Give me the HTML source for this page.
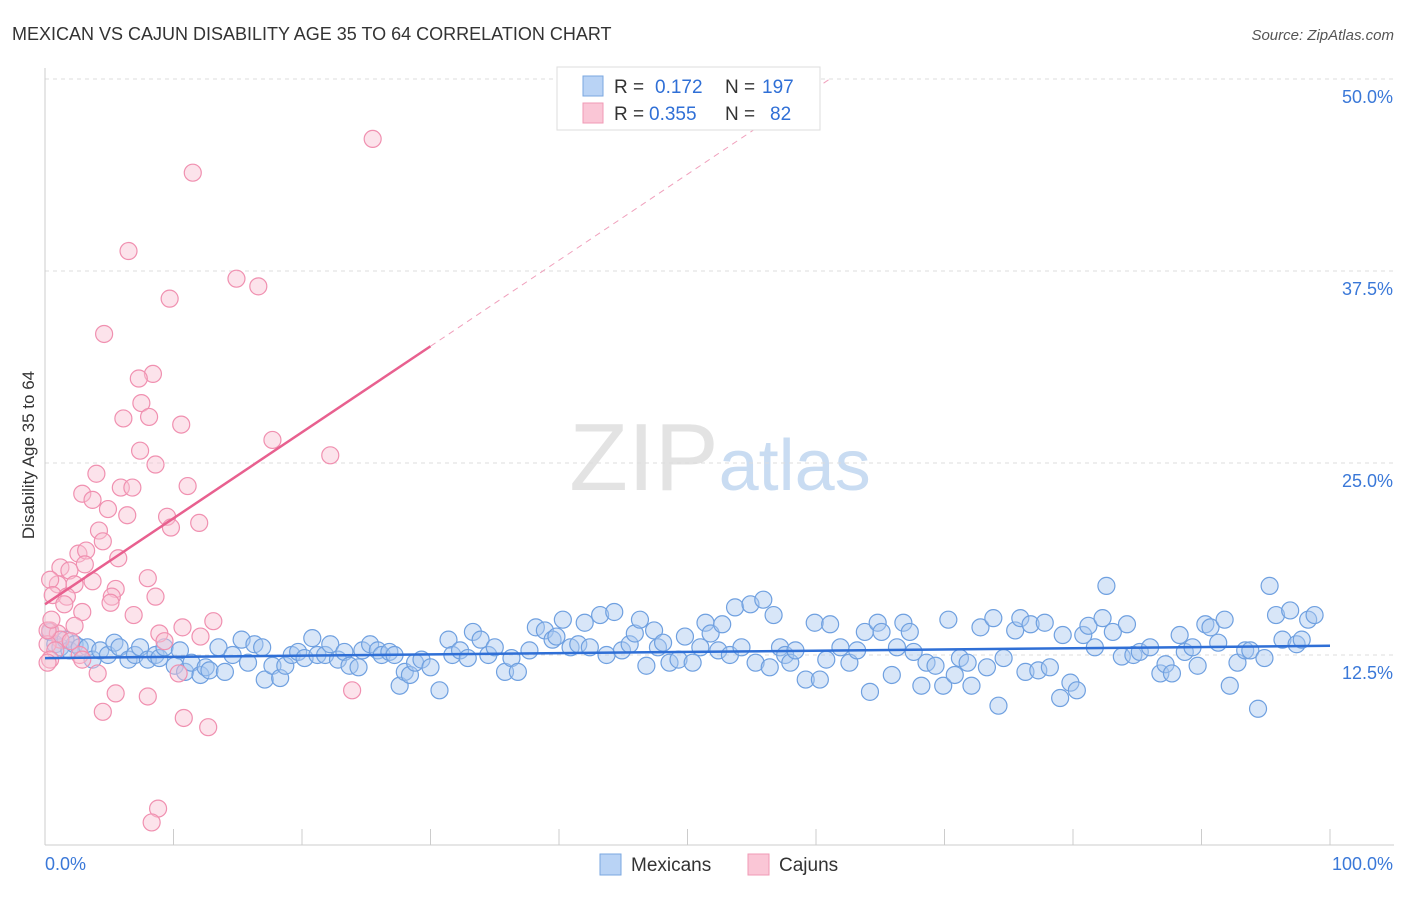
<!DOCTYPE html>
<html><head><meta charset="utf-8"><style>
body{margin:0;background:#fff;font-family:"Liberation Sans",sans-serif;}
svg text{font-family:"Liberation Sans",sans-serif;}
</style></head><body>
<svg id="chart" width="1406" height="892" xmlns="http://www.w3.org/2000/svg">
<text x="12" y="40" font-size="18" fill="#333">MEXICAN VS CAJUN DISABILITY AGE 35 TO 64 CORRELATION CHART</text>
<text x="1394" y="40" font-size="15" fill="#555" font-style="italic" text-anchor="end">Source: ZipAtlas.com</text>
<text x="720" y="490" font-size="96" fill="#e3e3e3" text-anchor="middle" font-family="Liberation Serif">ZIP<tspan fill="#c9dcf2" font-family="Liberation Sans" font-size="72">atlas</tspan></text>
<g id="grid"></g><g id="axes"></g><g id="pts"></g><g id="trend"></g>
<text transform="translate(34,455) rotate(-90)" font-size="17" fill="#333" text-anchor="middle">Disability Age 35 to 64</text>
<g>
<rect x="557" y="67" width="263" height="63" fill="#fff" stroke="#ddd"/>
<rect x="583" y="76" width="20" height="20" fill="#b9d3f5" stroke="#7aa7e0"/>
<rect x="583" y="103" width="20" height="20" fill="#fac6d6" stroke="#f09ab5"/>
<text x="614" y="93" font-size="19" fill="#333">R =</text>
<text x="655" y="93" font-size="19" fill="#2f6fd6">0.172</text>
<text x="725" y="93" font-size="19" fill="#333">N =</text>
<text x="762" y="93" font-size="19" fill="#2f6fd6">197</text>
<text x="614" y="120" font-size="19" fill="#333">R =</text>
<text x="649" y="120" font-size="19" fill="#2f6fd6">0.355</text>
<text x="725" y="120" font-size="19" fill="#333">N =</text>
<text x="770" y="120" font-size="19" fill="#2f6fd6">82</text>
</g>
<g>
<rect x="600" y="854" width="21" height="21" fill="#b9d3f5" stroke="#7aa7e0"/>
<text x="631" y="871" font-size="19" fill="#333">Mexicans</text>
<rect x="748" y="854" width="21" height="21" fill="#fac6d6" stroke="#f09ab5"/>
<text x="779" y="871" font-size="19" fill="#333">Cajuns</text>
</g>
</svg>
<script>
const yTicks=[12.5,25,37.5,50];
const yTickLabels=["12.5%","25.0%","37.5%","50.0%"];
const xTicks=[0,10,20,30,40,50,60,70,80,90,100];
const xEndLabels=["0.0%","100.0%"];
const mexX=[0.4,0.8,1.2,1.6,1.9,2.3,2.7,3.3,3.7,4.3,4.9,5.4,5.8,6.5,7.0,7.4,8.0,8.6,8.9,9.3,10.1,10.5,10.9,11.4,12.1,12.5,12.8,13.5,14.0,14.6,15.3,15.8,16.3,16.9,17.1,17.7,18.3,18.7,19.2,19.7,20.2,20.8,21.2,21.8,22.2,22.8,23.3,23.7,24.4,24.7,25.3,25.9,26.2,26.8,27.2,27.6,28.0,28.4,28.8,29.3,30.0,30.7,31.4,31.7,32.3,32.9,33.3,33.9,34.5,35.0,35.8,36.3,36.8,37.7,38.2,38.9,39.5,39.8,40.3,40.9,41.5,42.0,42.4,43.2,43.7,44.3,44.9,45.5,45.9,46.3,46.8,47.4,47.7,48.1,48.6,49.3,49.8,50.4,51.0,51.4,51.8,52.4,52.7,53.3,53.7,54.2,54.9,55.3,55.9,56.4,56.7,57.2,57.6,58.0,58.4,59.2,59.9,60.3,60.8,61.1,61.9,62.6,63.2,63.8,64.2,64.8,65.1,65.9,66.3,66.8,67.3,67.6,68.2,68.6,69.3,69.9,70.3,70.8,71.2,71.8,72.1,72.8,73.3,73.8,74.2,74.6,75.5,75.9,76.3,76.7,77.3,77.8,78.2,79.0,79.2,79.8,80.3,80.8,81.2,81.7,82.3,82.6,83.1,83.8,84.2,84.7,85.2,86.0,86.8,87.2,87.7,88.3,88.7,89.3,89.7,90.3,90.7,91.3,91.8,92.2,92.8,93.4,93.8,94.4,94.9,95.3,95.8,96.3,96.9,97.4,97.8,98.3,98.8];
const mexY=[14.0,13.2,13.0,13.5,12.8,13.2,13.0,13.0,12.2,12.8,12.5,13.3,13.0,12.2,12.5,13.0,12.2,12.5,12.3,13.0,11.8,12.8,11.4,12.0,11.2,11.7,11.5,13.0,11.4,12.5,13.5,12.0,13.2,13.0,10.9,11.8,11.0,11.8,12.5,12.7,12.3,13.6,12.5,12.5,13.2,12.2,12.7,11.8,11.7,12.8,13.2,12.8,12.5,12.7,12.5,10.5,11.4,11.2,12.0,12.2,11.7,10.2,13.5,12.5,12.8,12.3,14.0,13.5,12.5,13.0,11.4,12.3,11.4,12.8,14.3,14.1,13.5,13.7,14.8,13.0,13.2,14.6,13.0,15.1,12.5,15.3,12.8,13.2,13.9,14.8,11.8,14.1,13.0,13.3,12.0,12.2,13.7,12.0,13.0,14.6,13.9,12.8,14.5,12.5,15.6,13.0,15.8,12.0,16.1,11.7,15.1,13.0,12.5,12.0,12.8,10.9,14.6,10.9,12.2,14.5,13.0,12.0,12.8,14.0,10.1,14.6,14.0,11.2,13.0,14.6,14.0,12.7,10.5,12.0,11.8,10.5,14.8,11.2,12.3,12.0,10.5,14.3,11.7,14.9,9.2,12.3,14.1,14.9,11.4,14.5,11.5,14.6,11.7,9.7,13.8,10.7,10.2,13.8,14.4,13.0,14.9,17.0,14.0,12.4,14.5,12.5,12.7,13.0,11.3,11.9,11.3,13.8,12.7,13.0,11.8,14.5,14.3,13.3,14.8,10.5,12.0,12.8,12.8,9.0,12.3,17.0,15.1,13.5,15.4,13.2,13.5,14.8,15.1];
const cajX=[25.5,11.5,6.5,9.7,14.9,16.6,4.6,8.4,7.3,7.5,6.1,8.1,10.6,17.7,7.4,8.6,4.0,22.2,2.9,5.9,6.8,11.1,3.7,4.9,6.4,9.5,12.0,9.8,4.2,4.5,2.6,3.2,5.7,1.2,3.1,1.9,8.0,1.0,2.3,3.7,0.4,5.5,0.6,5.2,1.7,8.6,1.5,5.1,2.9,6.9,13.1,10.7,0.4,2.3,1.0,8.9,9.3,12.1,1.2,0.2,0.8,2.7,0.4,4.1,10.4,2.9,5.5,8.0,23.9,4.5,10.8,12.7,8.8,8.3,0.2,0.5,2.0,0.2];
const cajY=[46.1,43.9,38.8,35.7,37.0,36.5,33.4,30.8,30.5,28.9,27.9,28.0,27.5,26.5,25.8,24.9,24.3,25.5,23.0,23.4,23.4,23.5,22.6,22.0,21.6,21.5,21.1,20.8,20.6,19.9,19.1,19.3,18.8,18.2,18.4,18.0,17.5,17.1,17.1,17.3,17.4,16.8,16.4,16.3,16.3,16.3,15.8,15.9,15.3,15.1,14.7,14.3,14.1,14.4,13.9,13.9,13.4,13.7,13.5,13.2,12.8,12.5,12.2,11.3,11.3,12.2,10.0,9.8,10.2,8.8,8.4,7.8,2.5,1.6,14.1,14.8,13.4,12.0];
const mexTrend=[12.3,13.1];
const cajTrend=[15.8,0.56];
const X0=45,X1=1330,Y0=847,PXPER=15.36;
const sx=v=>X0+(X1-X0)*v/100;
const sy=v=>Y0-v*PXPER;
const NS="http://www.w3.org/2000/svg";
function mk(tag,attrs,parent){const e=document.createElementNS(NS,tag);for(const k in attrs)e.setAttribute(k,attrs[k]);parent.appendChild(e);return e;}
const grid=document.getElementById('grid'),axes=document.getElementById('axes'),pts=document.getElementById('pts'),trend=document.getElementById('trend');
yTicks.forEach((t,i)=>{
 const l=mk('line',{x1:X0,x2:1394,y1:sy(t),y2:sy(t),stroke:'#ddd','stroke-dasharray':'4,4'},grid);
 
 
 const tx=mk('text',{x:1393,y:sy(t)+24,'font-size':18,fill:'#3a78d8','text-anchor':'end'},axes);
 tx.textContent=yTickLabels[i];
 
 
});
const ax=mk('line',{x1:X0,x2:1394,y1:Y0-2,y2:Y0-2,stroke:'#ccc'},axes);


const ay=mk('line',{x1:X0,x2:X0,y1:68,y2:Y0-2,stroke:'#ccc'},axes);


xTicks.forEach(t=>{
 const l=mk('line',{x1:sx(t),x2:sx(t),y1:Y0-2,y2:Y0-18,stroke:'#ccc'},axes);
 
 
});
[[0,'start'],[100,'end']].forEach((p,i)=>{
 const tx=mk('text',{x:i?1393:45,y:870,'font-size':18,fill:'#3a78d8','text-anchor':p[1]},axes);
 tx.textContent=xEndLabels[i];
 
 
});
mexX.forEach((x,i)=>{
 const c=mk('circle',{cx:sx(x),cy:sy(mexY[i]),r:8.5,fill:'rgba(168,200,240,0.45)',stroke:'#6fa0e0','stroke-width':1.2},pts);
 
 
});
cajX.forEach((x,i)=>{
 const c=mk('circle',{cx:sx(x),cy:sy(cajY[i]),r:8.5,fill:'rgba(248,192,210,0.45)',stroke:'#f090b0','stroke-width':1.2},pts);
 
 
});
const bt=mk('line',{x1:sx(0),y1:sy(mexTrend[0]),x2:sx(100),y2:sy(mexTrend[1]),stroke:'#2f6fd6','stroke-width':2.5},trend);


const cf=x=>cajTrend[0]+cajTrend[1]*x;
const xEnd=(50-cajTrend[0])/cajTrend[1];
const ct=mk('line',{x1:sx(0),y1:sy(cf(0)),x2:sx(30),y2:sy(cf(30)),stroke:'#e8608f','stroke-width':2.5},trend);


const cd=mk('line',{x1:sx(30),y1:sy(cf(30)),x2:sx(xEnd),y2:sy(50),stroke:'#f0a0bc','stroke-width':1,'stroke-dasharray':'6,5'},trend);


</script>
</body></html>
